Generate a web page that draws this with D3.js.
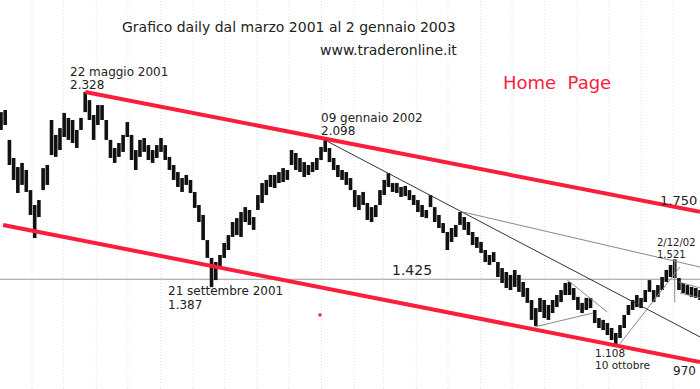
<!DOCTYPE html>
<html>
<head>
<meta charset="utf-8">
<script src="https://cdn.jsdelivr.net/npm/d3@7"></script>
<style>
  body { margin: 0; background: #fff; }
  svg { display: block; font-family: "DejaVu Sans", Verdana, sans-serif; }
</style>
</head>
<body>
<div class="container"></div>
<script>
const W = 700, H = 389;

// daily path, sampled every 4 days: [date, high, low]
const bars = [
  ['2001-03-03', 2.231, 2.145], ['2001-03-07', 2.241, 2.169], ['2001-03-11', 2.097, 1.976], ['2001-03-15', 2.010, 1.904],
  ['2001-03-19', 1.966, 1.841], ['2001-03-23', 1.986, 1.880], ['2001-03-27', 1.952, 1.846], ['2001-03-31', 1.855, 1.735],
  ['2001-04-04', 1.783, 1.624], ['2001-04-08', 1.807, 1.725], ['2001-04-12', 1.961, 1.855], ['2001-04-16', 1.976, 1.880],
  ['2001-04-20', 2.193, 2.024], ['2001-04-24', 2.121, 2.015], ['2001-04-28', 2.154, 2.048], ['2001-05-02', 2.227, 2.111],
  ['2001-05-06', 2.203, 2.097], ['2001-05-10', 2.193, 2.082], ['2001-05-14', 2.145, 2.058], ['2001-05-18', 2.203, 2.145],
  ['2001-05-22', 2.328, 2.231], ['2001-05-26', 2.289, 2.193], ['2001-05-30', 2.217, 2.097], ['2001-06-03', 2.265, 2.169],
  ['2001-06-07', 2.265, 2.193], ['2001-06-11', 2.193, 2.097], ['2001-06-15', 2.097, 2.010], ['2001-06-19', 2.058, 1.986],
  ['2001-06-23', 2.082, 2.015], ['2001-06-27', 2.121, 2.039], ['2001-07-01', 2.183, 2.111], ['2001-07-05', 2.121, 2.000],
  ['2001-07-09', 2.048, 1.952], ['2001-07-13', 2.097, 2.015], ['2001-07-17', 2.106, 2.039], ['2001-07-21', 2.072, 2.000],
  ['2001-07-25', 2.048, 1.986], ['2001-07-29', 2.072, 2.010], ['2001-08-02', 2.106, 2.039], ['2001-08-06', 2.072, 2.000],
  ['2001-08-10', 2.015, 1.952], ['2001-08-14', 1.976, 1.904], ['2001-08-18', 1.942, 1.870], ['2001-08-22', 1.913, 1.846],
  ['2001-08-26', 1.928, 1.880], ['2001-08-30', 1.904, 1.841], ['2001-09-03', 1.846, 1.769], ['2001-09-07', 1.783, 1.701],
  ['2001-09-11', 1.735, 1.614], ['2001-09-15', 1.614, 1.528], ['2001-09-19', 1.528, 1.387], ['2001-09-23', 1.508, 1.421],
  ['2001-09-27', 1.542, 1.479], ['2001-10-01', 1.600, 1.528], ['2001-10-05', 1.638, 1.566], ['2001-10-09', 1.701, 1.629],
  ['2001-10-13', 1.720, 1.638], ['2001-10-17', 1.749, 1.629], ['2001-10-21', 1.773, 1.701], ['2001-10-25', 1.759, 1.687],
  ['2001-10-29', 1.725, 1.663], ['2001-11-02', 1.831, 1.759], ['2001-11-06', 1.889, 1.793], ['2001-11-10', 1.904, 1.831],
  ['2001-11-14', 1.928, 1.870], ['2001-11-18', 1.928, 1.865], ['2001-11-22', 1.942, 1.889], ['2001-11-26', 1.961, 1.894],
  ['2001-11-30', 1.952, 1.904], ['2001-12-04', 2.048, 1.976], ['2001-12-08', 2.034, 1.952], ['2001-12-12', 2.010, 1.942],
  ['2001-12-16', 1.990, 1.918], ['2001-12-20', 1.976, 1.928], ['2001-12-24', 1.990, 1.942], ['2001-12-28', 2.010, 1.952],
  ['2002-01-01', 2.063, 2.000], ['2002-01-05', 2.098, 2.039], ['2002-01-09', 2.058, 1.990], ['2002-01-13', 2.010, 1.952],
  ['2002-01-17', 1.976, 1.918], ['2002-01-21', 1.952, 1.904], ['2002-01-25', 1.942, 1.880], ['2002-01-29', 1.913, 1.855],
  ['2002-02-02', 1.855, 1.773], ['2002-02-06', 1.831, 1.759], ['2002-02-10', 1.846, 1.783], ['2002-02-14', 1.793, 1.711],
  ['2002-02-18', 1.773, 1.701], ['2002-02-22', 1.783, 1.725], ['2002-02-26', 1.855, 1.783], ['2002-03-02', 1.904, 1.831],
  ['2002-03-06', 1.937, 1.870], ['2002-03-10', 1.889, 1.846], ['2002-03-14', 1.889, 1.841], ['2002-03-18', 1.870, 1.822],
  ['2002-03-22', 1.875, 1.826], ['2002-03-26', 1.855, 1.807], ['2002-03-30', 1.831, 1.783], ['2002-04-03', 1.807, 1.749],
  ['2002-04-07', 1.783, 1.725], ['2002-04-11', 1.759, 1.720], ['2002-04-15', 1.831, 1.773], ['2002-04-19', 1.773, 1.701],
  ['2002-04-23', 1.735, 1.672], ['2002-04-27', 1.696, 1.648], ['2002-05-01', 1.653, 1.566], ['2002-05-05', 1.672, 1.605],
  ['2002-05-09', 1.687, 1.629], ['2002-05-13', 1.749, 1.687], ['2002-05-17', 1.725, 1.663], ['2002-05-21', 1.701, 1.638],
  ['2002-05-25', 1.653, 1.590], ['2002-05-29', 1.629, 1.576], ['2002-06-02', 1.605, 1.552], ['2002-06-06', 1.566, 1.508],
  ['2002-06-10', 1.542, 1.494], ['2002-06-14', 1.556, 1.508], ['2002-06-18', 1.508, 1.436], ['2002-06-22', 1.479, 1.407],
  ['2002-06-26', 1.460, 1.383], ['2002-06-30', 1.446, 1.373], ['2002-07-04', 1.470, 1.388], ['2002-07-08', 1.446, 1.364],
  ['2002-07-12', 1.412, 1.340], ['2002-07-16', 1.383, 1.311], ['2002-07-20', 1.325, 1.229], ['2002-07-24', 1.286, 1.200],
  ['2002-07-28', 1.335, 1.267], ['2002-08-01', 1.325, 1.238], ['2002-08-05', 1.301, 1.229], ['2002-08-09', 1.325, 1.262],
  ['2002-08-13', 1.349, 1.291], ['2002-08-17', 1.373, 1.315], ['2002-08-21', 1.407, 1.349], ['2002-08-25', 1.412, 1.349],
  ['2002-08-29', 1.383, 1.325], ['2002-09-02', 1.340, 1.277], ['2002-09-06', 1.311, 1.262], ['2002-09-10', 1.335, 1.277],
  ['2002-09-14', 1.335, 1.286], ['2002-09-18', 1.277, 1.214], ['2002-09-22', 1.238, 1.190], ['2002-09-26', 1.229, 1.180],
  ['2002-09-30', 1.214, 1.156], ['2002-10-04', 1.190, 1.132], ['2002-10-08', 1.166, 1.108], ['2002-10-12', 1.204, 1.142],
  ['2002-10-16', 1.253, 1.190], ['2002-10-20', 1.301, 1.253], ['2002-10-24', 1.325, 1.277], ['2002-10-28', 1.349, 1.291],
  ['2002-11-01', 1.335, 1.286], ['2002-11-05', 1.373, 1.315], ['2002-11-09', 1.421, 1.364], ['2002-11-13', 1.373, 1.315],
  ['2002-11-17', 1.397, 1.340], ['2002-11-21', 1.436, 1.373], ['2002-11-25', 1.470, 1.412], ['2002-11-29', 1.494, 1.436],
  ['2002-12-03', 1.521, 1.431], ['2002-12-07', 1.431, 1.373], ['2002-12-11', 1.407, 1.359], ['2002-12-15', 1.397, 1.349],
  ['2002-12-19', 1.388, 1.340], ['2002-12-23', 1.383, 1.335], ['2002-12-27', 1.373, 1.325], ['2002-12-31', 1.373, 1.325]
];

// red channel
const channelTop = [['2001-05-22', 2.328], ['2002-12-27', 1.750]];
const channelBottom = [['2001-03-05', 1.687], ['2002-12-27', 1.026]];

// thin trend lines drawn on the chart
const trendDark = [['2002-01-07', 2.090], ['2002-12-27', 1.147]];
const trendGray = [
  [['2002-05-16', 1.749], ['2002-12-27', 1.484]],
  [['2002-07-23', 1.195], ['2002-09-16', 1.262]],
  [['2002-08-23', 1.421], ['2002-09-30', 1.267]],
  [['2002-10-11', 1.108], ['2002-12-08', 1.484]],
  [['2002-12-03', 1.521], ['2002-12-03', 1.315]],
  [['2002-12-07', 1.412], ['2002-12-27', 1.383]],
  [['2002-12-08', 1.359], ['2002-12-27', 1.335]]
];
const support = 1.425;
const redDot = ['2001-12-31', 1.253];

const parse = d3.timeParse('%Y-%m-%d');

const x = d3.scaleTime()
  .domain([parse('2001-03-03'), parse('2002-12-27')])
  .range([1, 700]);
const y = d3.scaleLinear()
  .domain([2.328, 1.108])
  .range([92, 345]);

const svg = d3.select('.container')
  .append('svg')
  .attr('width', W)
  .attr('height', H);

svg.append('rect').attr('width', W).attr('height', H).attr('fill', '#fff');

// monthly vertical grid
const grid = svg.append('g')
  .attr('transform', `translate(0,${H})`)
  .call(d3.axisBottom(x).ticks(d3.timeMonth.every(1)).tickSize(-H).tickFormat(''));
grid.select('.domain').remove();
grid.selectAll('.tick line')
  .attr('stroke', '#e2e2e2')
  .attr('stroke-dasharray', '1,2');

const line = d3.line().x(d => x(parse(d[0]))).y(d => y(d[1]));

// 1.425 horizontal
svg.append('line')
  .attr('x1', 0).attr('x2', W)
  .attr('y1', y(support)).attr('y2', y(support))
  .attr('stroke', '#999').attr('stroke-width', 1);

// price bars
svg.append('g')
  .selectAll('rect')
  .data(bars)
  .join('rect')
  .attr('x', d => x(parse(d[0])) - 1.8)
  .attr('width', 3.6)
  .attr('y', d => y(d[1]))
  .attr('height', d => y(d[2]) - y(d[1]))
  .attr('fill', '#111');

// thin lines
svg.append('path').attr('d', line(trendDark))
  .attr('fill', 'none').attr('stroke', '#333').attr('stroke-width', 1);
trendGray.forEach(seg => {
  svg.append('path').attr('d', line(seg))
    .attr('fill', 'none').attr('stroke', '#888').attr('stroke-width', 1);
});

// red channel
[channelTop, channelBottom].forEach(seg => {
  svg.append('path').attr('d', line(seg))
    .attr('fill', 'none').attr('stroke', '#fa1e3c').attr('stroke-width', 4);
});
svg.append('rect')
  .attr('x', x(parse(redDot[0])) - 1.5).attr('y', y(redDot[1]) - 1.5)
  .attr('width', 3).attr('height', 3).attr('fill', '#fa1e3c');

// texts
function label(t, px, py, size, color) {
  svg.append('text')
    .attr('x', px).attr('y', py)
    .attr('font-size', size)
    .attr('fill', color || '#222')
    .style('white-space', 'pre')
    .text(t);
}
label('Grafico daily dal marzo 2001 al 2 gennaio 2003', 122, 32, 14);
label('www.traderonline.it', 320, 55, 14);
label('Home  Page', 503, 89, 18, '#fa1e3c');
label('22 maggio 2001', 70, 76, 12);
label('2.328', 70, 89, 12);
label('09 gennaio 2002', 321, 122, 12);
label('2.098', 321, 135, 12);
label('21 settembre 2001', 168, 295, 12);
label('1.387', 168, 309, 12);
label('1.425', 392, 275, 14);
label('1.750', 660, 205, 13);
label('2/12/02', 657, 246, 10);
label('1.521', 657, 258, 10);
label('1.108', 595, 357, 10.5);
label('10 ottobre', 595, 369, 10.5);
label('970', 673, 375, 12);
</script>
</body>
</html>
